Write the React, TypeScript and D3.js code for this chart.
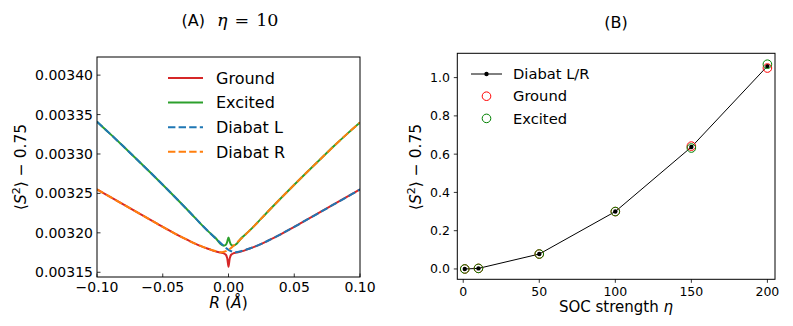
import React, { useEffect, useRef } from 'react';
import * as d3 from 'd3';

// Panel A: <S^2> - 0.75 vs R at eta = 10
const rGrid = [-0.1, -0.09, -0.08, -0.07, -0.06, -0.05, -0.04, -0.03, -0.025, -0.02, -0.015, -0.01, -0.005, 0,
  0.005, 0.01, 0.015, 0.02, 0.025, 0.03, 0.04, 0.05, 0.06, 0.07, 0.08, 0.09, 0.1];
const diabatL = [0.003341, 0.0033255, 0.0033097, 0.0032936, 0.0032775, 0.003261, 0.0032442, 0.003227, 0.0032183,
  0.0032095, 0.0032012, 0.0031932, 0.0031855, 0.0031785, 0.0031755, 0.003177, 0.0031795, 0.0031825, 0.003186,
  0.00319, 0.0031985, 0.0032075, 0.003217, 0.0032265, 0.003236, 0.0032455, 0.003255];
const diabatR = [0.003255, 0.0032455, 0.003236, 0.0032265, 0.003217, 0.0032075, 0.0031985, 0.00319, 0.003186,
  0.0031825, 0.0031795, 0.003177, 0.0031755, 0.0031785, 0.0031855, 0.0031932, 0.0032012, 0.0032095, 0.0032183,
  0.003227, 0.0032442, 0.003261, 0.0032775, 0.0032936, 0.0033097, 0.0033252, 0.00334];

const rFine = [-0.1, -0.09, -0.08, -0.07, -0.06, -0.05, -0.04, -0.03, -0.025, -0.02, -0.015, -0.01, -0.006, -0.004,
  -0.002, -0.001, 0, 0.001, 0.002, 0.004, 0.006, 0.01, 0.015, 0.02, 0.025, 0.03, 0.04, 0.05, 0.06, 0.07, 0.08, 0.09, 0.1];
const groundA = [0.003255, 0.0032455, 0.003236, 0.0032265, 0.003217, 0.0032075, 0.0031985, 0.00319, 0.003186,
  0.0031825, 0.0031795, 0.0031765, 0.003175, 0.0031742, 0.0031722, 0.003168, 0.003157, 0.003168, 0.0031722,
  0.0031742, 0.003175, 0.0031765, 0.0031795, 0.0031825, 0.003186, 0.00319, 0.0031985, 0.0032075, 0.003217,
  0.0032265, 0.003236, 0.0032455, 0.003255];
const excitedA = [0.003341, 0.0033255, 0.0033097, 0.0032936, 0.0032775, 0.003261, 0.0032442, 0.003227, 0.0032183,
  0.0032095, 0.0032012, 0.0031937, 0.0031858, 0.0031838, 0.0031848, 0.0031885, 0.003194, 0.0031885, 0.0031848,
  0.0031838, 0.0031858, 0.0031937, 0.0032012, 0.0032095, 0.0032183, 0.003227, 0.0032442, 0.003261, 0.0032775,
  0.0032936, 0.0033097, 0.0033252, 0.00334];

const ticksAx = [-0.1, -0.05, 0, 0.05, 0.1];
const ticksAy = [0.00315, 0.0032, 0.00325, 0.0033, 0.00335, 0.0034];

// Panel B: <S^2> - 0.75 vs SOC strength
const etaVals = [1, 10, 50, 100, 150, 200];
const diabatLR = [0.0, 0.003, 0.078, 0.300, 0.637, 1.060];
const groundB = [0.0, 0.003, 0.078, 0.300, 0.642, 1.050];
const excitedB = [0.0, 0.003, 0.078, 0.300, 0.632, 1.070];

const ticksBx = [0, 50, 100, 150, 200];
const ticksBy = [0, 0.2, 0.4, 0.6, 0.8, 1.0];

const FONT = 'DejaVu Sans, sans-serif';
const SERIF = 'DejaVu Serif, serif';

const App = () => {
  const svgRef = useRef<SVGSVGElement>(null);

  useEffect(() => {
    const svg = d3.select(svgRef.current);
    svg.selectAll('*').remove();

    // ---------- Panel A ----------
    const ax = d3.scaleLinear().domain([-0.1, 0.1]).range([97, 360]);
    const ay = d3.scaleLinear().domain([0.003144, 0.003423]).range([277, 57]);

    svg.append('defs').append('clipPath').attr('id', 'clipA')
      .append('rect').attr('x', 97).attr('y', 57).attr('width', 263).attr('height', 220);

    const gA = svg.append('g');
    const plotA = gA.append('g').attr('clip-path', 'url(#clipA)');

    const lineA = (xs: number[], ys: number[]) =>
      d3.line<number>().x((_, i) => ax(xs[i])).y(d => ay(d)).curve(d3.curveCatmullRom.alpha(0.5))(ys);

    const seriesA = [
      { xs: rFine, ys: groundA, color: '#d62728', dash: null },
      { xs: rFine, ys: excitedA, color: '#2ca02c', dash: null },
      { xs: rGrid, ys: diabatL, color: '#1f77b4', dash: '7.4,3.2' },
      { xs: rGrid, ys: diabatR, color: '#ff7f0e', dash: '7.4,3.2' },
    ];
    seriesA.forEach(s => {
      plotA.append('path')
        .attr('d', lineA(s.xs, s.ys))
        .attr('fill', 'none')
        .attr('stroke', s.color)
        .attr('stroke-width', 2)
        .attr('stroke-dasharray', s.dash);
    });

    // ticks (inward)
    ticksAx.forEach(t => {
      gA.append('line').attr('x1', ax(t)).attr('x2', ax(t)).attr('y1', 277).attr('y2', 273.5)
        .attr('stroke', '#000').attr('stroke-width', 0.8);
      gA.append('text').attr('x', ax(t)).attr('y', 292).attr('text-anchor', 'middle')
        .attr('font-family', FONT).attr('font-size', 14).text(d3.format('.2f')(t));
    });
    ticksAy.forEach(t => {
      gA.append('line').attr('x1', 97).attr('x2', 100.5).attr('y1', ay(t)).attr('y2', ay(t))
        .attr('stroke', '#000').attr('stroke-width', 0.8);
      gA.append('text').attr('x', 93).attr('y', ay(t)).attr('dy', '0.36em').attr('text-anchor', 'end')
        .attr('font-family', FONT).attr('font-size', 14).text(d3.format('.5f')(t));
    });
    gA.append('rect').attr('x', 97).attr('y', 57).attr('width', 263).attr('height', 220)
      .attr('fill', 'none').attr('stroke', '#000').attr('stroke-width', 1);

    // legend A
    const legA = ['Ground', 'Excited', 'Diabat L', 'Diabat R'];
    legA.forEach((name, i) => {
      const y = 78 + i * 24.6;
      gA.append('line').attr('x1', 168).attr('x2', 203).attr('y1', y).attr('y2', y)
        .attr('stroke', seriesA[i].color).attr('stroke-width', 2)
        .attr('stroke-dasharray', seriesA[i].dash);
      gA.append('text').attr('x', 216).attr('y', y).attr('dy', '0.36em')
        .attr('font-family', FONT).attr('font-size', 16).text(name);
    });

    // title A
    const tA = gA.append('text').attr('x', 230).attr('y', 26).attr('text-anchor', 'middle');
    tA.append('tspan').attr('font-family', FONT).attr('font-size', 16).text('(A)');
    tA.append('tspan').attr('font-family', SERIF).attr('font-size', 17.5).attr('font-style', 'italic')
      .attr('dx', 12).text('η');
    tA.append('tspan').attr('font-family', SERIF).attr('font-size', 17.5).attr('dx', 7).text('=');
    tA.append('tspan').attr('font-family', SERIF).attr('font-size', 17.5).attr('dx', 7).text('10');

    // axis labels A
    const xlA = gA.append('text').attr('x', 228.5).attr('y', 308).attr('text-anchor', 'middle')
      .attr('font-family', FONT).attr('font-size', 15.5);
    xlA.append('tspan').attr('font-style', 'italic').text('R');
    xlA.append('tspan').text(' (');
    xlA.append('tspan').attr('font-style', 'italic').text('Å');
    xlA.append('tspan').text(')');

    const ylabel = (g: d3.Selection<SVGGElement, unknown, null, undefined>, x: number, y: number) => {
      const t = g.append('text').attr('transform', `translate(${x},${y}) rotate(-90)`)
        .attr('text-anchor', 'middle').attr('font-family', FONT).attr('font-size', 15.5);
      t.append('tspan').text('⟨');
      t.append('tspan').attr('font-style', 'italic').text('S');
      t.append('tspan').attr('font-size', 11).attr('dy', -6).text('2');
      t.append('tspan').attr('dy', 6).text('⟩ − 0.75');
    };
    ylabel(gA, 26, 167);

    // ---------- Panel B ----------
    const bx = d3.scaleLinear().domain([-3.9, 205]).range([457.3, 775]);
    const by = d3.scaleLinear().domain([-0.054, 1.127]).range([279.3, 53.3]);
    const gB = svg.append('g');

    ticksBx.forEach(t => {
      gB.append('line').attr('x1', bx(t)).attr('x2', bx(t)).attr('y1', 279.3).attr('y2', 282.8)
        .attr('stroke', '#000').attr('stroke-width', 0.8);
      gB.append('text').attr('x', bx(t)).attr('y', 296).attr('text-anchor', 'middle')
        .attr('font-family', FONT).attr('font-size', 12.5).text(String(t));
    });
    ticksBy.forEach(t => {
      gB.append('line').attr('x1', 457.3).attr('x2', 453.8).attr('y1', by(t)).attr('y2', by(t))
        .attr('stroke', '#000').attr('stroke-width', 0.8);
      gB.append('text').attr('x', 450).attr('y', by(t)).attr('dy', '0.36em').attr('text-anchor', 'end')
        .attr('font-family', FONT).attr('font-size', 12.5).text(d3.format('.1f')(t));
    });

    const lineB = d3.line<number>().x((_, i) => bx(etaVals[i])).y(d => by(d));
    gB.append('path').attr('d', lineB(diabatLR)).attr('fill', 'none').attr('stroke', '#000').attr('stroke-width', 1);
    diabatLR.forEach((v, i) => {
      gB.append('circle').attr('cx', bx(etaVals[i])).attr('cy', by(v)).attr('r', 2.2).attr('fill', '#000');
    });
    groundB.forEach((v, i) => {
      gB.append('circle').attr('cx', bx(etaVals[i])).attr('cy', by(v)).attr('r', 4.3)
        .attr('fill', 'none').attr('stroke', '#ff0000').attr('stroke-width', 1);
    });
    excitedB.forEach((v, i) => {
      gB.append('circle').attr('cx', bx(etaVals[i])).attr('cy', by(v)).attr('r', 4.3)
        .attr('fill', 'none').attr('stroke', '#008000').attr('stroke-width', 1);
    });

    gB.append('rect').attr('x', 457.3).attr('y', 53.3).attr('width', 317.7).attr('height', 226)
      .attr('fill', 'none').attr('stroke', '#000').attr('stroke-width', 1);

    // legend B
    gB.append('line').attr('x1', 471).attr('x2', 502).attr('y1', 74).attr('y2', 74)
      .attr('stroke', '#000').attr('stroke-width', 1);
    gB.append('circle').attr('cx', 486.5).attr('cy', 74).attr('r', 2.2).attr('fill', '#000');
    gB.append('circle').attr('cx', 486.5).attr('cy', 96.2).attr('r', 4.3)
      .attr('fill', 'none').attr('stroke', '#ff0000');
    gB.append('circle').attr('cx', 486.5).attr('cy', 118.4).attr('r', 4.3)
      .attr('fill', 'none').attr('stroke', '#008000');
    ['Diabat L/R', 'Ground', 'Excited'].forEach((name, i) => {
      gB.append('text').attr('x', 513).attr('y', 74 + i * 22.2).attr('dy', '0.36em')
        .attr('font-family', FONT).attr('font-size', 14.7).text(name);
    });

    gB.append('text').attr('x', 616).attr('y', 28).attr('text-anchor', 'middle')
      .attr('font-family', FONT).attr('font-size', 16).text('(B)');

    const xlB = gB.append('text').attr('x', 616).attr('y', 312).attr('text-anchor', 'middle')
      .attr('font-family', FONT).attr('font-size', 15);
    xlB.append('tspan').text('SOC strength ');
    xlB.append('tspan').attr('font-style', 'italic').text('η');

    ylabel(gB, 421, 167);
  }, []);

  return (
    <div style={{ position: 'absolute', left: 0, top: 0, background: '#fff' }}>
      <svg ref={svgRef} width={793} height={326}></svg>
    </div>
  );
};

export default App;
